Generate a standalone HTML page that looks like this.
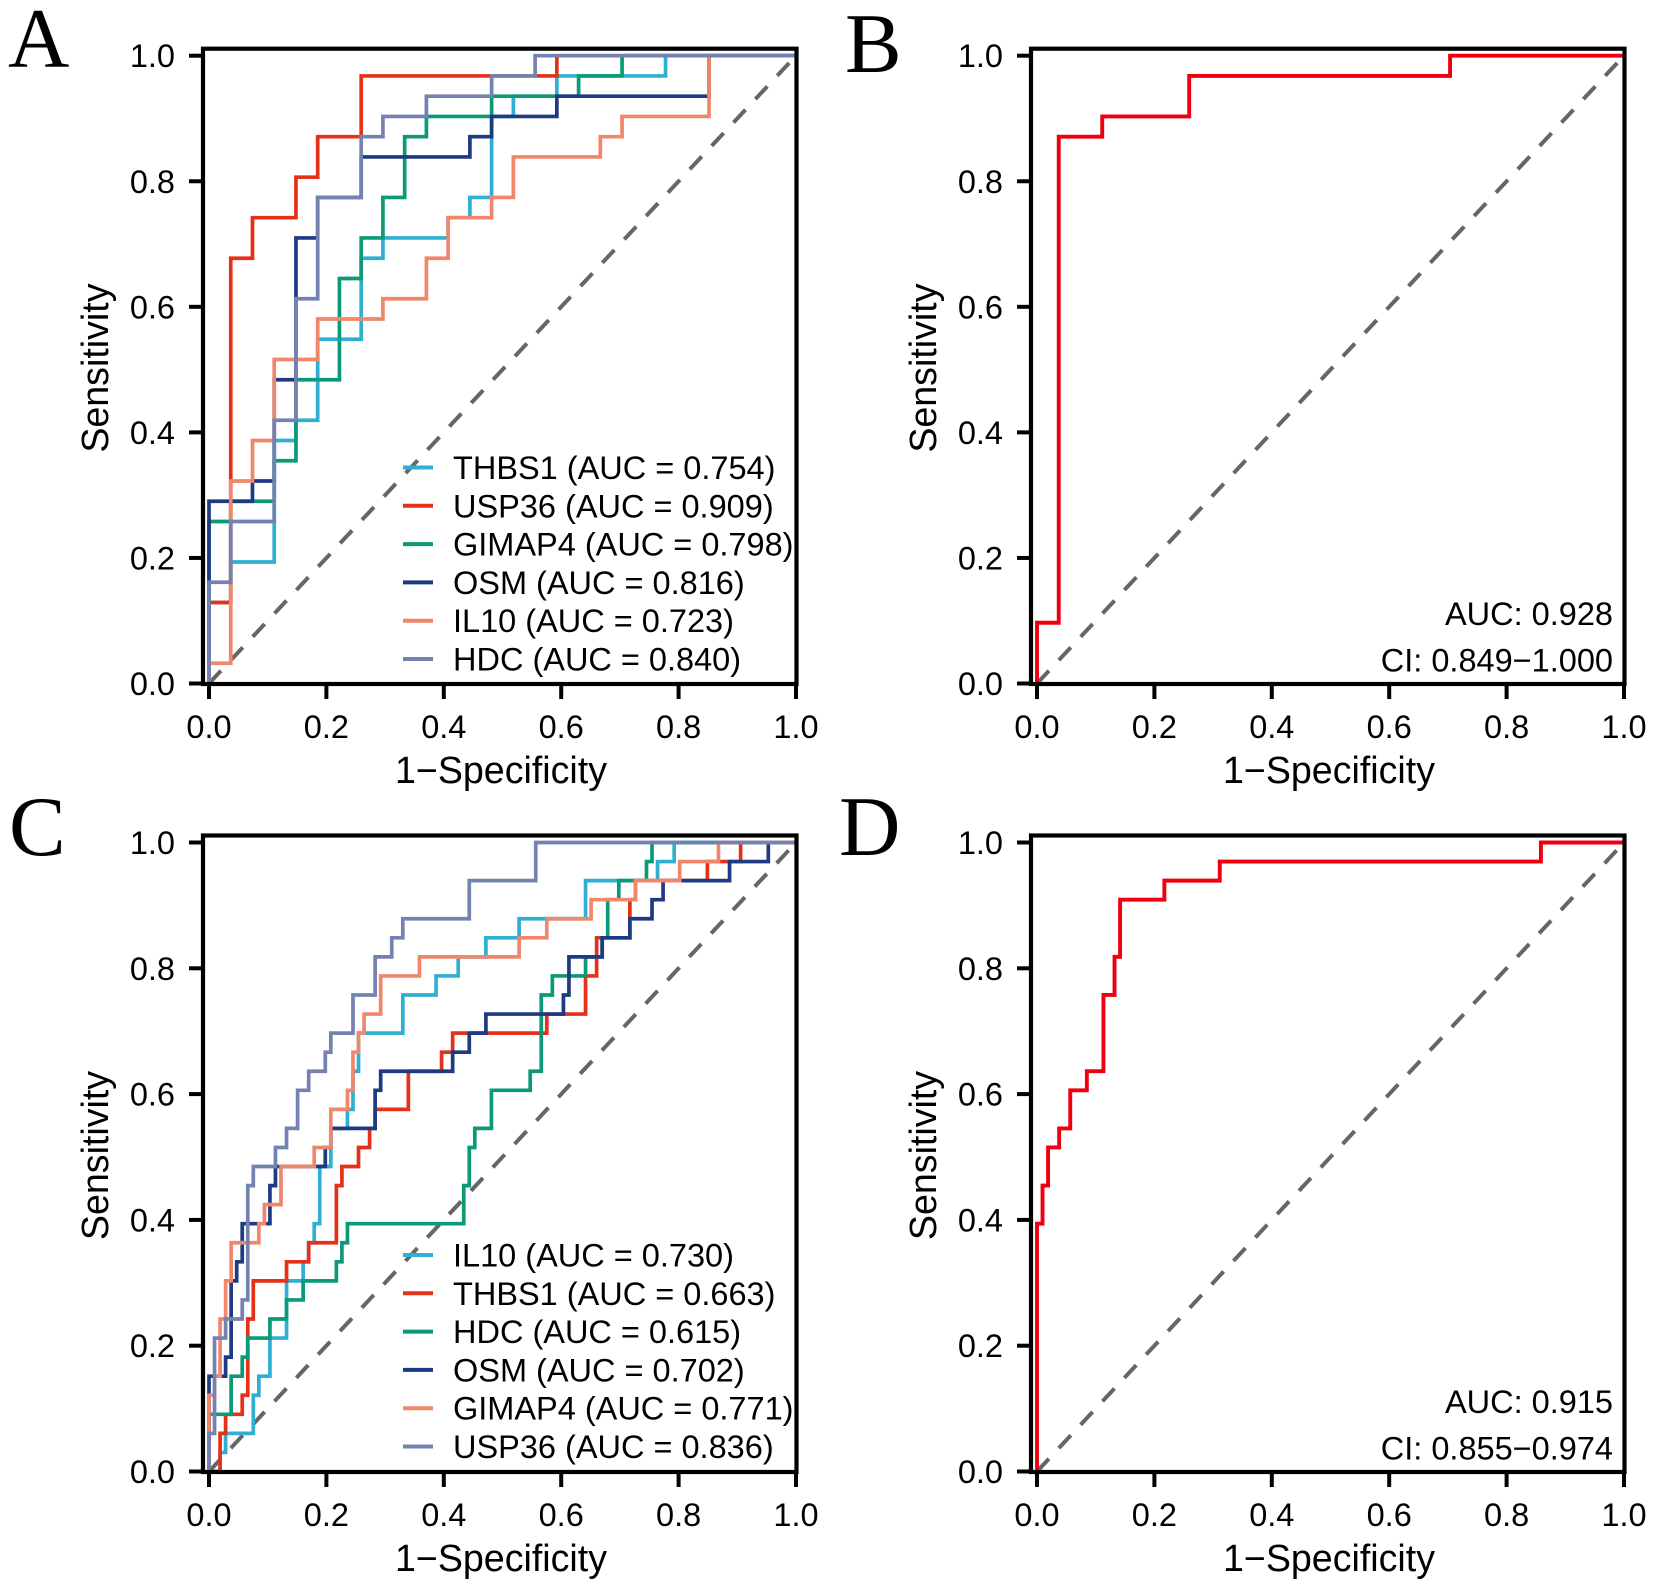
<!DOCTYPE html>
<html lang="en">
<head>
<meta charset="utf-8">
<title>ROC curves</title>
<style>
html,body{margin:0;padding:0;background:#fff;}
svg{display:block;}
text{font-family:"Liberation Sans",Arial,sans-serif;fill:#000;}
.panel-letter{font-family:"Liberation Serif",serif;font-size:85px;}
</style>
</head>
<body>
<svg id="figure" xmlns="http://www.w3.org/2000/svg" width="1654" height="1587" viewBox="0 0 1654 1587"></svg>
<script>
// Axis ticks
const tickValues = [0, 0.2, 0.4, 0.6, 0.8, 1];
const tickLabels = ['0.0', '0.2', '0.4', '0.6', '0.8', '1.0'];
const xAxisTitle = '1\u2212Specificity';
const yAxisTitle = 'Sensitivity';

// Panels A and B: 27 controls, 31 cases. Panels C and D: 106 controls, 33 cases.
const controlsAB = 27, casesAB = 31, controlsCD = 106, casesCD = 33;

// Each curve: fp = false-positive count at a rise, tp = true-positive count after that rise.
const aThbs1Fp = [0,1,3,4,5,7,8,11,12,13,14,16,21];
const aThbs1Tp = [4,6,12,13,17,21,22,23,24,28,29,30,31];
const aUsp36Fp = [0,1,2,4,5,7,16];
const aUsp36Tp = [4,21,23,25,27,30,31];
const aGimap4Fp = [0,1,3,4,6,7,8,9,10,13,17,19];
const aGimap4Tp = [8,9,11,15,20,22,24,27,28,29,30,31];
const aOsmFp = [0,2,3,4,5,7,12,13,16,23];
const aOsmTp = [9,10,15,22,24,26,27,28,29,31];
const aIl10Fp = [0,1,2,3,5,8,10,11,13,14,18,19,23];
const aIl10Tp = [1,10,12,16,18,19,21,23,24,26,27,28,31];
const aHdcFp = [0,1,3,4,5,7,8,10,13,15];
const aHdcTp = [5,8,13,19,24,27,28,29,30,31];

const bFp = [0,1,3,7,19];
const bTp = [3,27,28,30,31];

const cIl10Fp = [2,3,8,9,11,14,17,18,19,20,22,25,26,27,35,41,45,50,56,68,81,84];
const cIl10Tp = [1,2,4,5,7,10,11,12,13,16,18,19,21,23,25,26,27,28,29,31,32,33];
const cThbs1Fp = [2,3,6,7,8,14,18,23,24,27,29,30,36,42,44,61,68,70,76,77,90,96];
const cThbs1Tp = [2,3,4,8,10,11,12,15,16,17,18,19,21,22,23,24,26,28,30,31,32,33];
const cHdcFp = [0,4,6,7,11,14,17,23,24,25,46,47,48,51,58,60,62,68,71,72,74,79,80];
const cHdcTp = [3,5,6,7,8,9,10,11,12,13,15,17,18,20,21,25,26,27,28,30,31,32,33];
const cOsmFp = [0,3,4,5,6,11,12,21,22,30,31,44,47,50,64,65,71,76,80,82,94,101];
const cOsmTp = [5,6,10,11,13,15,16,17,18,20,21,22,23,24,25,27,28,29,30,31,32,33];
const cGimap4Fp = [0,1,2,3,4,9,10,13,19,22,25,26,27,28,31,38,56,61,69,77,85,92];
const cGimap4Tp = [4,5,8,10,12,13,14,16,17,19,20,22,23,24,26,27,28,29,30,31,32,33];
const cUsp36Fp = [0,1,3,6,7,8,12,14,16,18,21,22,26,30,33,35,47,59];
const cUsp36Tp = [2,7,8,9,15,16,17,18,20,21,22,23,25,27,28,29,31,33];

const dFp = [0,1,2,4,6,9,12,14,15,23,33,91];
const dTp = [13,15,17,18,20,21,25,27,30,31,32,33];

// Legend text
const legendNamesA = ['THBS1','USP36','GIMAP4','OSM','IL10','HDC'];
const legendAucA = ['0.754','0.909','0.798','0.816','0.723','0.840'];
const legendNamesC = ['IL10','THBS1','HDC','OSM','GIMAP4','USP36'];
const legendAucC = ['0.730','0.663','0.615','0.702','0.771','0.836'];

const NS = 'http://www.w3.org/2000/svg';
const figure = document.getElementById('figure');

function make(parent, tag, attrs, text) {
  const node = document.createElementNS(NS, tag);
  for (const key in attrs) node.setAttribute(key, attrs[key]);
  if (text !== undefined) node.textContent = text;
  parent.appendChild(node);
  return node;
}

function drawCurve(group, panel, curve) {
  const xScale = v => panel.x0 + (panel.x1 - panel.x0) * v;
  const yScale = v => panel.y0 + (panel.y1 - panel.y0) * v;
  let d = 'M' + xScale(0) + ' ' + yScale(0);
  curve.fp.forEach((count, i) => {
    d += 'H' + xScale(count / panel.controls).toFixed(2);
    d += 'V' + yScale(curve.tp[i] / panel.cases).toFixed(2);
  });
  d += 'H' + xScale(1);
  const line = make(group, 'path', {d: d, fill: 'none', stroke: curve.color, 'stroke-width': curve.width, 'stroke-linejoin': 'miter'});
  
  
}

function drawPanel(panel) {
  const group = make(figure, 'g', {});
  
  
  const xScale = v => panel.x0 + (panel.x1 - panel.x0) * v;
  const yScale = v => panel.y0 + (panel.y1 - panel.y0) * v;

  const letter = make(group, 'text', {x: panel.letterX, y: panel.letterY, 'class': 'panel-letter'}, panel.letter);
  
  

  const diagonal = make(group, 'line', {x1: xScale(0), y1: yScale(0), x2: xScale(1), y2: yScale(1), stroke: '#666', 'stroke-width': 4, 'stroke-dasharray': '17.5 14.5'});
  
  

  panel.curves.forEach(curve => drawCurve(group, panel, curve));

  const frameLeft = panel.x0 - 6, frameTop = panel.y1 - 7, frameRight = panel.x1 + 0.5, frameBottom = panel.y0 + 0.5;
  const frame = make(group, 'rect', {x: frameLeft, y: frameTop, width: frameRight - frameLeft, height: frameBottom - frameTop, fill: 'none', stroke: '#000', 'stroke-width': 4.2});
  
  

  tickValues.forEach((value, i) => {
    const tx = xScale(value), ty = yScale(value);
    const xTick = make(group, 'line', {x1: tx, x2: tx, y1: frameBottom, y2: frameBottom + 15, stroke: '#000', 'stroke-width': 4});
    
    
    const xLabel = make(group, 'text', {x: tx, y: panel.y0 + 54.5, 'text-anchor': 'middle', 'font-size': 32.5}, tickLabels[i]);
    
    
    const yTick = make(group, 'line', {x1: frameLeft, x2: frameLeft - 14, y1: ty, y2: ty, stroke: '#000', 'stroke-width': 4});
    
    
    const yLabel = make(group, 'text', {x: frameLeft - 28, y: ty + 11.5, 'text-anchor': 'end', 'font-size': 32.5}, tickLabels[i]);
    
    
  });

  const xTitle = make(group, 'text', {x: (panel.x0 + panel.x1) / 2 - 1.5, y: panel.y0 + 99.5, 'text-anchor': 'middle', 'font-size': 37.6}, xAxisTitle);
  
  
  const yMid = (panel.y0 + panel.y1) / 2 - 1.5;
  const yTitle = make(group, 'text', {x: 0, y: 0, 'text-anchor': 'middle', 'font-size': 37.6, transform: 'translate(' + (panel.x0 - 101) + ' ' + yMid + ') rotate(-90)'}, yAxisTitle);
  
  

  if (panel.legendNames) {
    panel.legendNames.forEach((name, i) => {
      const rowY = panel.legendY + i * 38.3;
      const key = make(group, 'line', {x1: panel.x0 + 194, x2: panel.x0 + 224, y1: rowY, y2: rowY, stroke: panel.curves[i].color, 'stroke-width': 4});
      
      
      const label = make(group, 'text', {x: panel.x0 + 244, y: rowY + 11.5, 'font-size': 32.5}, name + ' (AUC = ' + panel.legendAuc[i] + ')');
      
      
    });
  }
  if (panel.notes) {
    panel.notes.forEach((note, i) => {
      const text = make(group, 'text', {x: panel.x1 - 11, y: panel.y0 - 58.5 + i * 46.5, 'text-anchor': 'end', 'font-size': 32.5}, note);
      
      
    });
  }
}

const colorCyan = '#2fb0d2', colorRed = '#e5301a', colorGreen = '#0a9a78', colorNavy = '#1e3a82', colorSalmon = '#f0866a', colorPurple = '#7482b0', colorPure = '#f0000f';
const lw = 3.7;

drawPanel({
  id: 'a', letter: 'A', letterX: 8, letterY: 67,
  x0: 209, x1: 796, y0: 683.5, y1: 55.7, controls: controlsAB, cases: casesAB,
  legendNames: legendNamesA, legendAuc: legendAucA, legendY: 467.5,
  curves: [
    {name: 'curve-thbs1', color: colorCyan, width: lw, fp: aThbs1Fp, tp: aThbs1Tp},
    {name: 'curve-usp36', color: colorRed, width: lw, fp: aUsp36Fp, tp: aUsp36Tp},
    {name: 'curve-gimap4', color: colorGreen, width: lw, fp: aGimap4Fp, tp: aGimap4Tp},
    {name: 'curve-osm', color: colorNavy, width: lw, fp: aOsmFp, tp: aOsmTp},
    {name: 'curve-il10', color: colorSalmon, width: lw, fp: aIl10Fp, tp: aIl10Tp},
    {name: 'curve-hdc', color: colorPurple, width: lw, fp: aHdcFp, tp: aHdcTp}
  ]
});
drawPanel({
  id: 'b', letter: 'B', letterX: 845, letterY: 72,
  x0: 1037, x1: 1624, y0: 683.5, y1: 55.7, controls: controlsAB, cases: casesAB,
  notes: ['AUC: 0.928', 'CI: 0.849\u22121.000'],
  curves: [{name: 'curve-combined', color: colorPure, width: 3.9, fp: bFp, tp: bTp}]
});
drawPanel({
  id: 'c', letter: 'C', letterX: 9, letterY: 855,
  x0: 209, x1: 796, y0: 1471.5, y1: 842.5, controls: controlsCD, cases: casesCD,
  legendNames: legendNamesC, legendAuc: legendAucC, legendY: 1255,
  curves: [
    {name: 'curve-il10', color: colorCyan, width: lw, fp: cIl10Fp, tp: cIl10Tp},
    {name: 'curve-thbs1', color: colorRed, width: lw, fp: cThbs1Fp, tp: cThbs1Tp},
    {name: 'curve-hdc', color: colorGreen, width: lw, fp: cHdcFp, tp: cHdcTp},
    {name: 'curve-osm', color: colorNavy, width: lw, fp: cOsmFp, tp: cOsmTp},
    {name: 'curve-gimap4', color: colorSalmon, width: lw, fp: cGimap4Fp, tp: cGimap4Tp},
    {name: 'curve-usp36', color: colorPurple, width: lw, fp: cUsp36Fp, tp: cUsp36Tp}
  ]
});
drawPanel({
  id: 'd', letter: 'D', letterX: 839, letterY: 855,
  x0: 1037, x1: 1624, y0: 1471.5, y1: 842.5, controls: controlsCD, cases: casesCD,
  notes: ['AUC: 0.915', 'CI: 0.855\u22120.974'],
  curves: [{name: 'curve-combined', color: colorPure, width: 3.9, fp: dFp, tp: dTp}]
});
</script>
</body>
</html>
